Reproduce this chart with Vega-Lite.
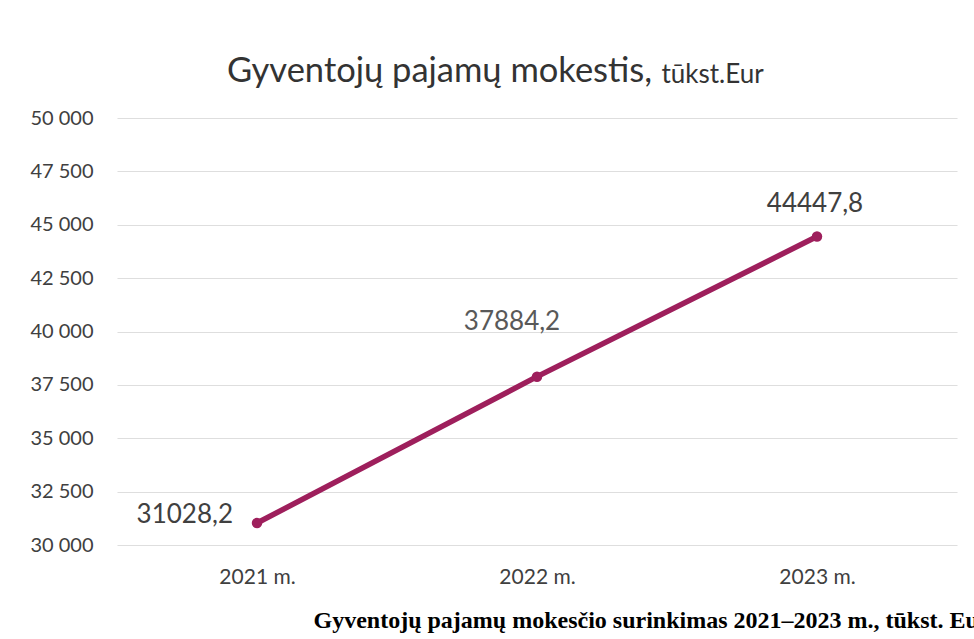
{
  "$schema": "https://vega.github.io/schema/vega-lite/v6.json",
  "width": 840,
  "height": 427,
  "autosize": {"type": "none"},
  "padding": {"left": 117, "top": 118, "right": 17, "bottom": 94},
  "background": "white",
  "title": {
    "text": "Gyventojų pajamų mokestis,",
    "anchor": "start",
    "frame": "group",
    "dx": 110,
    "offset": -28,
    "font": "Lato",
    "fontSize": 34.5,
    "fontWeight": "normal",
    "color": "#333333"
  },
  "config": {
    "view": {"stroke": null},
    "font": "Lato"
  },
  "data": {
    "values": [
      {"year": "2021 m.", "value": 31028.2, "label": "31028,2"},
      {"year": "2022 m.", "value": 37884.2, "label": "37884,2"},
      {"year": "2023 m.", "value": 44447.8, "label": "44447,8"}
    ]
  },
  "encoding": {
    "x": {
      "field": "year",
      "type": "ordinal",
      "scale": {"paddingInner": 0, "paddingOuter": 0.5},
      "axis": {
        "labelAngle": 0,
        "domain": false,
        "ticks": false,
        "labelFont": "Lato",
        "labelFontSize": 21,
        "labelColor": "#404040",
        "labelPadding": 21,
        "title": "Gyventojų pajamų mokesčio surinkimas 2021–2023 m., tūkst. Eur",
        "titleFont": "Liberation Serif",
        "titleFontSize": 24,
        "titleFontWeight": "bold",
        "titleColor": "#000000",
        "titleAnchor": "start",
        "titleAlign": "left",
        "titleBaseline": "alphabetic",
        "titleX": 196,
        "titleY": 82
      }
    },
    "y": {
      "field": "value",
      "type": "quantitative",
      "scale": {"domain": [30000, 50000], "nice": false, "zero": false},
      "axis": {
        "values": [30000, 32500, 35000, 37500, 40000, 42500, 45000, 47500, 50000],
        "labelExpr": "replace(format(datum.value, ','), ',', ' ')",
        "domain": false,
        "ticks": false,
        "grid": true,
        "gridColor": "#dedede",
        "gridWidth": 1.2,
        "labelFont": "Lato",
        "labelFontSize": 20,
        "labelColor": "#404040",
        "labelPadding": 24,
        "title": "tūkst.Eur",
        "titleAngle": 0,
        "titleFont": "Lato",
        "titleFontSize": 26,
        "titleFontWeight": "normal",
        "titleColor": "#333333",
        "titleAlign": "left",
        "titleBaseline": "alphabetic",
        "titleX": 544,
        "titleY": -36
      }
    }
  },
  "layer": [
    {
      "mark": {"type": "line", "color": "#9e1f5c", "strokeWidth": 5.5, "strokeCap": "round"}
    },
    {
      "mark": {"type": "point", "filled": true, "color": "#9e1f5c", "size": 110, "opacity": 1}
    },
    {
      "transform": [{"filter": "datum.year == '2021 m.'"}],
      "mark": {"type": "text", "align": "right", "baseline": "middle", "dx": -24, "dy": -8, "font": "Lato", "fontSize": 26, "color": "#404040"},
      "encoding": {"text": {"field": "label"}}
    },
    {
      "transform": [{"filter": "datum.year == '2022 m.'"}],
      "mark": {"type": "text", "align": "center", "baseline": "middle", "dx": -25, "dy": -55, "font": "Lato", "fontSize": 26, "color": "#595959"},
      "encoding": {"text": {"field": "label"}}
    },
    {
      "transform": [{"filter": "datum.year == '2023 m.'"}],
      "mark": {"type": "text", "align": "center", "baseline": "middle", "dx": -2, "dy": -33, "font": "Lato", "fontSize": 26, "color": "#404040"},
      "encoding": {"text": {"field": "label"}}
    }
  ]
}
